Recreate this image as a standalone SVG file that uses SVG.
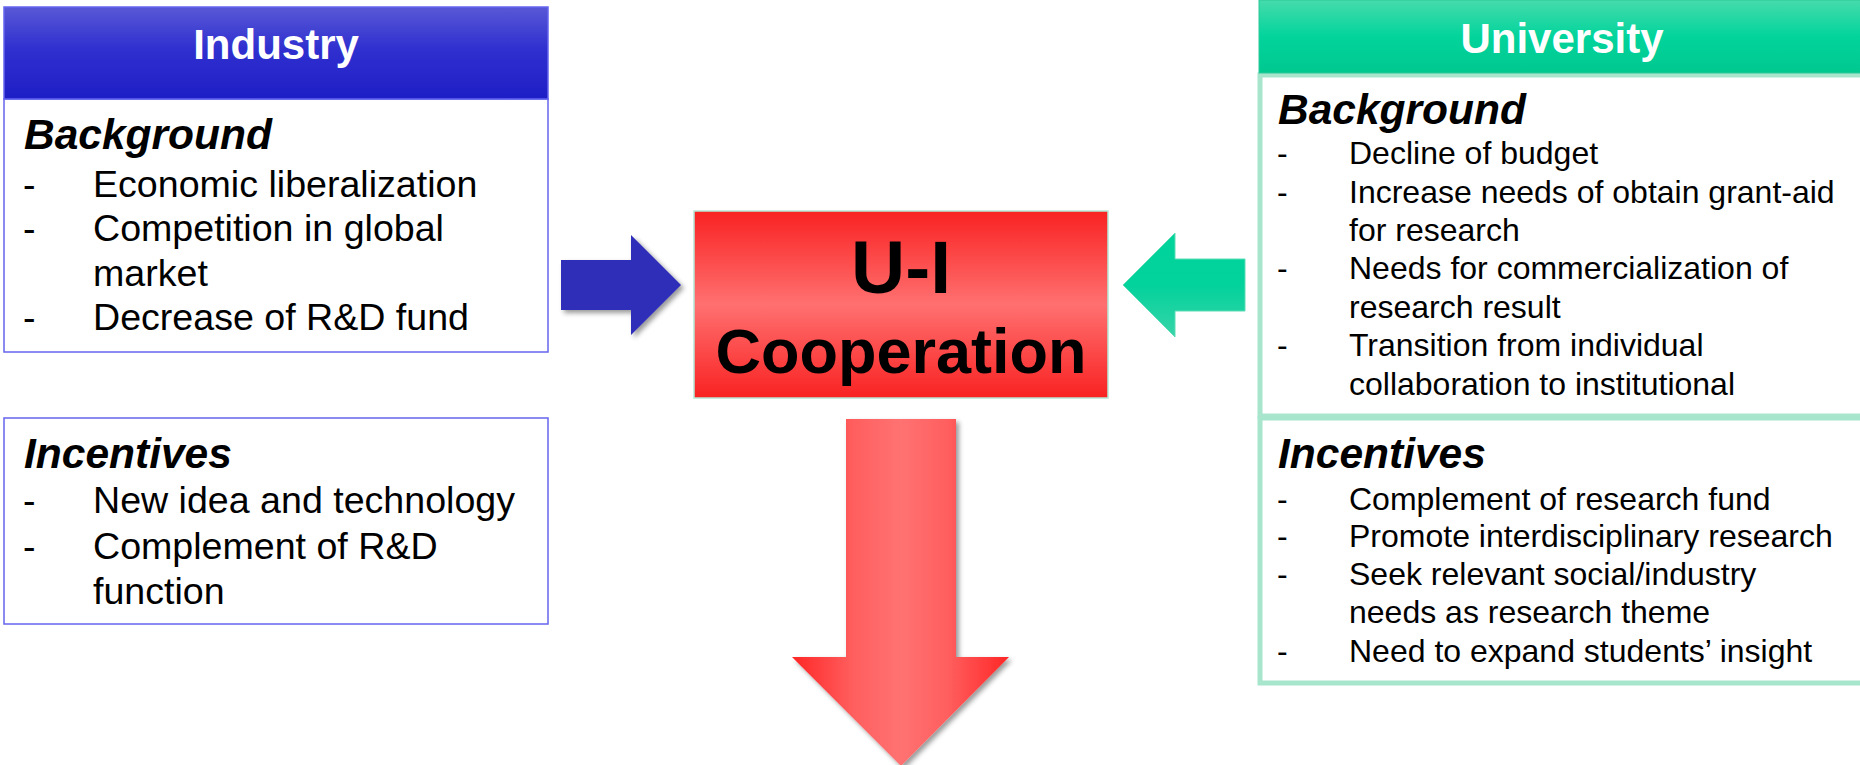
<svg xmlns="http://www.w3.org/2000/svg" width="1860" height="765" viewBox="0 0 1860 765">
<defs>
<linearGradient id="gBlueHead" x1="0" y1="0" x2="0" y2="1">
<stop offset="0" stop-color="#5858d6"/>
<stop offset="0.45" stop-color="#3030d0"/>
<stop offset="1" stop-color="#1e1ec6"/>
</linearGradient>
<linearGradient id="gGreenHead" x1="0" y1="0" x2="0" y2="1">
<stop offset="0" stop-color="#46dbab"/>
<stop offset="0.5" stop-color="#02d49c"/>
<stop offset="1" stop-color="#00c88f"/>
</linearGradient>
<linearGradient id="gCenter" x1="0" y1="0" x2="0" y2="1">
<stop offset="0" stop-color="#f92222"/>
<stop offset="0.5" stop-color="#ff7070"/>
<stop offset="1" stop-color="#f92222"/>
</linearGradient>
<linearGradient id="gGreenArrow" x1="0" y1="0" x2="0" y2="1">
<stop offset="0" stop-color="#00d49b"/>
<stop offset="0.5" stop-color="#02d29c"/>
<stop offset="1" stop-color="#38d4a8"/>
</linearGradient>
<linearGradient id="gRedArrow" gradientUnits="userSpaceOnUse" x1="792" y1="0" x2="1009" y2="0">
<stop offset="0" stop-color="#ff2626"/>
<stop offset="0.28" stop-color="#ff5e5e"/>
<stop offset="0.5" stop-color="#ff7272"/>
<stop offset="0.72" stop-color="#ff5e5e"/>
<stop offset="1" stop-color="#ff2626"/>
</linearGradient>
<filter id="shadow" x="-20%" y="-20%" width="150%" height="150%">
<feDropShadow dx="3" dy="3" stdDeviation="2.5" flood-color="#000" flood-opacity="0.4"/>
</filter>
</defs>
<style>
text { font-family: "Liberation Sans", Arial, sans-serif; fill: #000; }
.hdr { font-size: 42px; font-weight: bold; fill: #fff; text-anchor: middle; }
.sec { font-size: 42.5px; font-weight: bold; font-style: italic; }
.li { font-size: 37.6px; }
.lu { font-size: 32px; }
.ibox { fill: #fff; stroke: #6464ee; stroke-width: 1.5; }
.ubox { fill: #fff; stroke: #a8e5cd; stroke-width: 5; }
.big { font-weight: bold; text-anchor: middle; }
</style>

<g id="industry">
<rect x="4" y="99" width="544" height="253" class="ibox"/>
<rect x="4" y="7" width="544" height="92" fill="url(#gBlueHead)" stroke="#6464ee" stroke-width="1.5"/>
<text x="276" y="59" class="hdr">Industry</text>
<text x="24" y="149" class="sec">Background</text>
<text x="23" y="197" class="li">-</text>
<text x="93" y="197" class="li">Economic liberalization</text>
<text x="23" y="241" class="li">-</text>
<text x="93" y="241" class="li">Competition in global</text>
<text x="93" y="286" class="li">market</text>
<text x="23" y="330" class="li">-</text>
<text x="93" y="330" class="li">Decrease of R&amp;D fund</text>
</g>

<g id="industry-incentives">
<rect x="4" y="418" width="544" height="206" class="ibox"/>
<text x="24" y="468" class="sec">Incentives</text>
<text x="23" y="513" class="li">-</text>
<text x="93" y="513" class="li">New idea and technology</text>
<text x="23" y="559" class="li">-</text>
<text x="93" y="559" class="li">Complement of R&amp;D</text>
<text x="93" y="604" class="li">function</text>
</g>

<g id="university">
<rect x="1260" y="75" width="620" height="341" class="ubox"/>
<rect x="1259" y="0" width="606" height="73" fill="url(#gGreenHead)" stroke="#2cc897" stroke-width="1"/>
<text x="1562" y="53" class="hdr">University</text>
<text x="1278" y="124" class="sec">Background</text>
<text x="1277" y="164" class="lu">-</text>
<text x="1349" y="164" class="lu">Decline of budget</text>
<text x="1277" y="203" class="lu">-</text>
<text x="1349" y="203" class="lu">Increase needs of obtain grant-aid</text>
<text x="1349" y="241" class="lu">for research</text>
<text x="1277" y="279" class="lu">-</text>
<text x="1349" y="279" class="lu">Needs for commercialization of</text>
<text x="1349" y="318" class="lu">research result</text>
<text x="1277" y="356" class="lu">-</text>
<text x="1349" y="356" class="lu">Transition from individual</text>
<text x="1349" y="395" class="lu">collaboration to institutional</text>
</g>

<g id="university-incentives">
<rect x="1260" y="418" width="620" height="265" class="ubox"/>
<text x="1278" y="468" class="sec">Incentives</text>
<text x="1277" y="510" class="lu">-</text>
<text x="1349" y="510" class="lu">Complement of research fund</text>
<text x="1277" y="547" class="lu">-</text>
<text x="1349" y="547" class="lu">Promote interdisciplinary research</text>
<text x="1277" y="585" class="lu">-</text>
<text x="1349" y="585" class="lu">Seek relevant social/industry</text>
<text x="1349" y="623" class="lu">needs as research theme</text>
<text x="1277" y="662" class="lu">-</text>
<text x="1349" y="662" class="lu">Need to expand students’ insight</text>
</g>

<g id="cooperation">
<rect x="694" y="211" width="414" height="187" fill="url(#gCenter)" stroke="#b4e8d6" stroke-width="1.5"/>
<text x="901" y="293" class="big" font-size="75">U-I</text>
<text x="901" y="373" class="big" font-size="63">Cooperation</text>
</g>

<g id="connectors">
<polygon points="561,260 631,260 631,235 681,285 631,335 631,310 561,310" fill="#2f2fb8" filter="url(#shadow)"/>
<polygon points="1245,259 1175,259 1175,233 1123,285 1175,337 1175,311 1245,311" fill="url(#gGreenArrow)" stroke="#5ddcb6" stroke-width="1"/>
<polygon points="846,419 956,419 956,657 1009,657 901,766 792,657 846,657" fill="url(#gRedArrow)" filter="url(#shadow)"/>
</g>
</svg>
